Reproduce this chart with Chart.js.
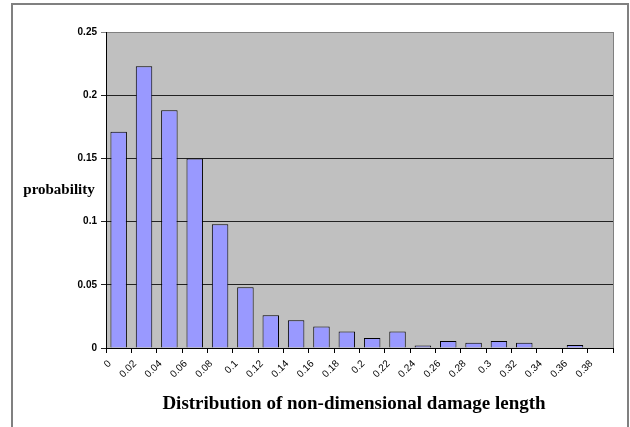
<!DOCTYPE html>
<html>
<head>
<meta charset="utf-8">
<script src="https://cdn.jsdelivr.net/npm/chart.js@4.4.1/dist/chart.umd.min.js"></script>
<style>
  body { margin: 0; background: #fff; }
  canvas { display: block; }
</style>
</head>
<body>
<canvas id="damageChart" width="630" height="427"></canvas>
<script>
// Bin start labels (non-dimensional damage length)
const binLabels = ['0', '0.02', '0.04', '0.06', '0.08', '0.1', '0.12', '0.14', '0.16', '0.18',
                   '0.2', '0.22', '0.24', '0.26', '0.28', '0.3', '0.32', '0.34', '0.36', '0.38'];

// Probability for each bin
const probability = [0.171, 0.223, 0.188, 0.150, 0.098, 0.048, 0.026, 0.022, 0.017, 0.013,
                     0.008, 0.013, 0.002, 0.0055, 0.0042, 0.0055, 0.0042, 0, 0.0024, 0];

const yTicks = [0, 0.05, 0.1, 0.15, 0.2, 0.25];

// Grey plot background, plot border, outer frame and the two titles
const excelLook = {
    id: 'excelLook',
    beforeDraw(chart) {
        const { ctx, chartArea: a } = chart;
        ctx.save();
        ctx.fillStyle = '#c0c0c0';
        ctx.fillRect(a.left, a.top, a.right - a.left, a.bottom - a.top);
        ctx.restore();
    },
    afterDraw(chart) {
        const { ctx, chartArea: a } = chart;
        ctx.save();
        // plot area right edge
        ctx.strokeStyle = '#808080';
        ctx.lineWidth = 1;
        ctx.beginPath();
        ctx.moveTo(a.right + 0.5, a.top);
        ctx.lineTo(a.right + 0.5, a.bottom);
        ctx.stroke();

        // chart frame
        ctx.strokeStyle = '#808080';
        ctx.lineWidth = 2;
        ctx.beginPath();
        ctx.moveTo(12, 427);
        ctx.lineTo(12, 4);
        ctx.lineTo(628, 4);
        ctx.lineTo(628, 427);
        ctx.stroke();

        // titles
        ctx.fillStyle = '#000';
        ctx.textAlign = 'center';
        ctx.textBaseline = 'middle';
        ctx.font = 'bold 15px "Liberation Serif"';
        ctx.fillText('probability', 59, 190);
        ctx.font = 'bold 19px "Liberation Serif"';
        ctx.fillText('Distribution of non-dimensional damage length', 354, 404);
        ctx.restore();
    }
};

const ctx = document.getElementById('damageChart').getContext('2d');

new Chart(ctx, {
    type: 'bar',
    data: {
        labels: binLabels,
        datasets: [{
            data: probability,
            backgroundColor: '#9999ff',
            borderColor: '#000',
            borderWidth: 1,
            barPercentage: 0.65,
            categoryPercentage: 1
        }]
    },
    options: {
        responsive: false,
        animation: false,
        layout: { padding: { top: 32, right: 17, left: 0, bottom: 0 } },
        plugins: {
            legend: { display: false },
            tooltip: { enabled: false }
        },
        scales: {
            x: {
                offset: true,
                grid: {
                    offset: true,
                    drawOnChartArea: false,
                    drawTicks: true,
                    tickLength: 5,
                    color: '#000'
                },
                border: { color: '#000' },
                ticks: {
                    autoSkip: false,
                    minRotation: 45,
                    maxRotation: 45,
                    labelOffset: -9,
                    padding: 5,
                    color: '#000',
                    font: { family: '"Liberation Sans"', size: 10 }
                },
                afterFit(scale) { scale.height = 79; }
            },
            y: {
                min: 0,
                max: 0.25,
                afterBuildTicks(scale) {
                    scale.ticks = yTicks.map(v => ({ value: v }));
                },
                grid: {
                    tickLength: 5,
                    color: ctx => (ctx.tick && ctx.tick.value === 0.25) ? '#808080' : '#222'
                },
                border: { color: '#000' },
                ticks: {
                    padding: 4,
                    color: '#000',
                    font: { family: '"Liberation Sans"', size: 10, weight: 'bold' },
                    callback: v => String(Number(v.toFixed(2)))
                },
                afterFit(scale) { scale.width = 106; }
            }
        }
    },
    plugins: [excelLook]
});
</script>
</body>
</html>
